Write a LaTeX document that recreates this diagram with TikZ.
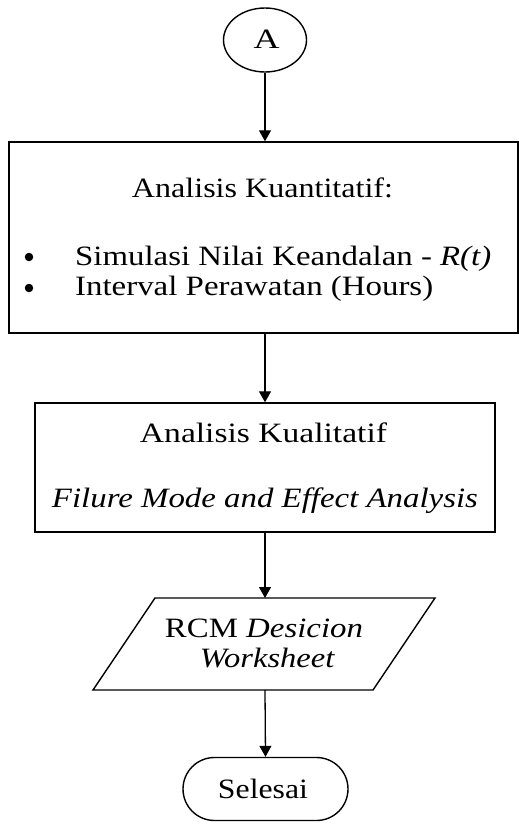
\documentclass[tikz,border=0pt]{standalone}
\usepackage{fontspec}
\usepackage{graphicx}
\setmainfont{Liberation Serif}
\usetikzlibrary{shapes.geometric,shapes.misc,arrows.meta}
\newcommand{\wbox}[2]{\resizebox{#1}{\height}{#2}}
\begin{document}
\begin{tikzpicture}[x=1pt,y=-1pt,
  every node/.style={font=\fontsize{28}{33}\selectfont, inner sep=0pt},
  txt/.style={anchor=base},
  bul/.style={circle, fill=black, minimum size=8.5pt},
  boxline/.style={draw, line width=1.4pt},
  arr/.style={line width=1.3pt, -{Triangle[width=12pt,length=11pt]}}]
\useasboundingbox (0,0) rectangle (519,825);
% start connector
\node[boxline, ellipse, minimum width=83pt, minimum height=64pt] (a) at (265,40) {};
\node[txt] (at) at (266.5,48) {\wbox{26pt}{A}};
% box 1
\node[boxline, rectangle, minimum width=509pt, minimum height=191pt] (k1) at (263.5,237.5) {};
\node[txt] (t1) at (262.5,197) {\wbox{261pt}{Analisis Kuantitatif:}};
\node[bul] (b1) at (29,257) {};
\node[bul] (b2) at (29,288) {};
\node[anchor=base west] (s1) at (75,265) {\wbox{416pt}{Simulasi Nilai Keandalan - \textit{R(t)}}};
\node[anchor=base west] (s2) at (75,295) {\wbox{358pt}{Interval Perawatan (Hours)}};
% box 2
\node[boxline, rectangle, minimum width=460pt, minimum height=129pt] (k2) at (265,467.5) {};
\node[txt] (t2) at (263.5,442) {\wbox{247pt}{Analisis Kualitatif}};
\node[txt] (t3) at (265,507) {\wbox{426pt}{\textit{Filure Mode and Effect Analysis}}};
% parallelogram
\coordinate (p1) at (155,598);
\coordinate (p2) at (435,598);
\coordinate (p3) at (373,690);
\coordinate (p4) at (93,690);
\draw[line width=1.4pt, line join=miter] (p1) -- (p2) -- (p3) -- (p4) -- cycle;
\node[txt] (pa) at (264,637) {\wbox{198pt}{RCM \textit{Desicion}}};
\node[txt] (pb) at (267.5,667) {\wbox{135pt}{\textit{Worksheet}}};
\coordinate (ptop) at (265,598);
\coordinate (pbot) at (265,690);
% end
\node[boxline, rounded rectangle, minimum width=165pt, minimum height=63pt] (e) at (265.5,789) {};
\node[txt] (et) at (263,798) {\wbox{90pt}{Selesai}};
% connectors
\draw[arr] (a.south) -- (a.south |- k1.north);
\draw[arr] (k1.south -| k2.north) -- (k2.north);
\draw[arr] (k2.south) -- (ptop);
\draw[arr] (pbot) -- (e.north);
\end{tikzpicture}
\end{document}
